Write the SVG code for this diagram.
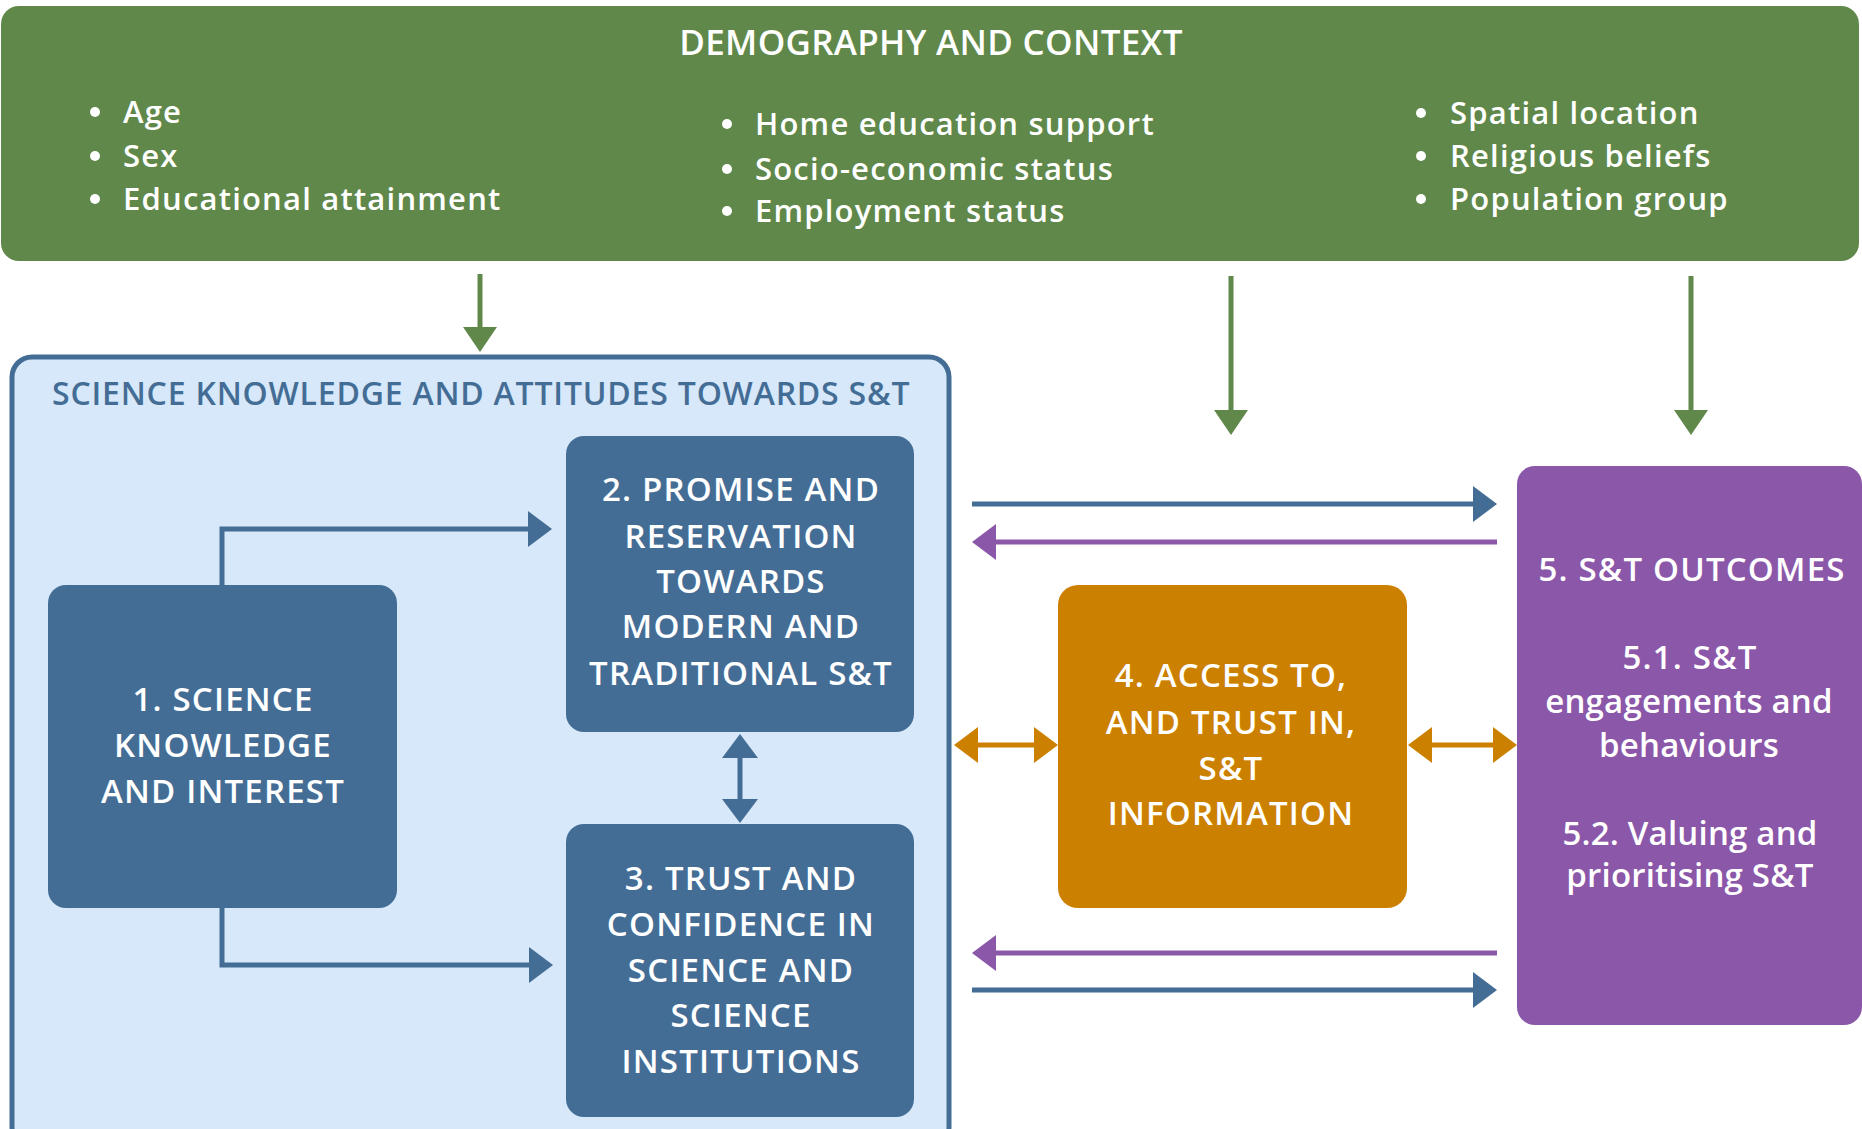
<svg xmlns="http://www.w3.org/2000/svg" width="1862" height="1129" viewBox="0 0 1862 1129">
<defs>
<style>
text{font-family:"Open Sans","Liberation Sans",sans-serif;font-weight:600;fill:#fff}
.title{font-size:35px;text-anchor:middle;letter-spacing:0.3px}
.bul{font-size:31px;letter-spacing:1.2px}
.box{font-size:33px;text-anchor:middle;letter-spacing:1.2px}
.lc{letter-spacing:0.2px}
.ctitle{font-size:32px;fill:#446d96;letter-spacing:0.8px}
.ln{fill:none;stroke-width:5}
</style>
<marker id="hb" markerUnits="userSpaceOnUse" viewBox="0 0 24 36" refX="14" refY="18" markerWidth="24" markerHeight="36" orient="auto-start-reverse"><path d="M0,0L24,18L0,36z" fill="#446d96"/></marker>
<marker id="hp" markerUnits="userSpaceOnUse" viewBox="0 0 24 36" refX="14" refY="18" markerWidth="24" markerHeight="36" orient="auto-start-reverse"><path d="M0,0L24,18L0,36z" fill="#8b57a9"/></marker>
<marker id="ho" markerUnits="userSpaceOnUse" viewBox="0 0 24 36" refX="14" refY="18" markerWidth="24" markerHeight="36" orient="auto-start-reverse"><path d="M0,0L24,18L0,36z" fill="#cc8000"/></marker>
<marker id="hg" markerUnits="userSpaceOnUse" viewBox="0 0 25 34" refX="15" refY="17" markerWidth="25" markerHeight="34" orient="auto"><path d="M0,0L25,17L0,34z" fill="#60884a"/></marker>
</defs>
<rect width="1862" height="1129" fill="#fff"/>

<g id="demography">
<rect x="1" y="6" width="1858" height="255" rx="18" fill="#60884a"/>
<text class="title" x="931" y="55">DEMOGRAPHY AND CONTEXT</text>
<g fill="#fff">
<circle cx="95" cy="112" r="5"/><circle cx="95" cy="156" r="5"/><circle cx="95" cy="199" r="5"/>
<circle cx="727" cy="124" r="5"/><circle cx="727" cy="169" r="5"/><circle cx="727" cy="211" r="5"/>
<circle cx="1421" cy="113" r="5"/><circle cx="1421" cy="156" r="5"/><circle cx="1421" cy="199" r="5"/>
</g>
<text class="bul" x="123" y="123">Age</text>
<text class="bul" x="123" y="167">Sex</text>
<text class="bul" x="123" y="210">Educational attainment</text>
<text class="bul" x="755" y="135">Home education support</text>
<text class="bul" x="755" y="180">Socio-economic status</text>
<text class="bul" x="755" y="222">Employment status</text>
<text class="bul" x="1450" y="124">Spatial location</text>
<text class="bul" x="1450" y="167">Religious beliefs</text>
<text class="bul" x="1450" y="210">Population group</text>
</g>

<g id="container">
<rect x="12" y="357" width="937" height="790" rx="20" fill="#d6e8f9" stroke="#446d96" stroke-width="5"/>
<text class="ctitle" x="52" y="405">SCIENCE KNOWLEDGE AND ATTITUDES TOWARDS S&amp;T</text>
</g>

<g id="node1">
<rect x="48" y="585" width="349" height="323" rx="18" fill="#446d96"/>
<text class="box" x="223" y="711">1. SCIENCE</text>
<text class="box" x="223" y="757">KNOWLEDGE</text>
<text class="box" x="223" y="803">AND INTEREST</text>
</g>

<g id="node2">
<rect x="566" y="436" width="348" height="296" rx="18" fill="#446d96"/>
<text class="box" x="741" y="501">2. PROMISE AND</text>
<text class="box" x="741" y="548">RESERVATION</text>
<text class="box" x="741" y="593">TOWARDS</text>
<text class="box" x="741" y="638">MODERN AND</text>
<text class="box" x="741" y="685">TRADITIONAL S&amp;T</text>
</g>

<g id="node3">
<rect x="566" y="824" width="348" height="293" rx="18" fill="#446d96"/>
<text class="box" x="741" y="890">3. TRUST AND</text>
<text class="box" x="741" y="936">CONFIDENCE IN</text>
<text class="box" x="741" y="982">SCIENCE AND</text>
<text class="box" x="741" y="1027">SCIENCE</text>
<text class="box" x="741" y="1073">INSTITUTIONS</text>
</g>

<g id="node4">
<rect x="1058" y="585" width="349" height="323" rx="20" fill="#cc8000"/>
<text class="box" x="1231" y="687">4. ACCESS TO,</text>
<text class="box" x="1231" y="734">AND TRUST IN,</text>
<text class="box" x="1231" y="780">S&amp;T</text>
<text class="box" x="1231" y="825">INFORMATION</text>
</g>

<g id="node5">
<rect x="1517" y="466" width="345" height="559" rx="18" fill="#8b57a9"/>
<text class="box" x="1692" y="581">5. S&amp;T OUTCOMES</text>
<text class="box" x="1690" y="669">5.1. S&amp;T</text>
<text class="box lc" x="1689" y="713">engagements and</text>
<text class="box lc" x="1689" y="757">behaviours</text>
<text class="box lc" x="1690" y="845">5.2. Valuing and</text>
<text class="box lc" x="1690" y="887">prioritising S&amp;T</text>
</g>

<g id="connectors">
<line class="ln" x1="480" y1="274" x2="480" y2="342" stroke="#60884a" marker-end="url(#hg)"/>
<line class="ln" x1="1231" y1="276" x2="1231" y2="425" stroke="#60884a" marker-end="url(#hg)"/>
<line class="ln" x1="1691" y1="276" x2="1691" y2="425" stroke="#60884a" marker-end="url(#hg)"/>
<path class="ln" d="M222,585V529H542" stroke="#446d96" marker-end="url(#hb)"/>
<path class="ln" d="M222,908V965H543" stroke="#446d96" marker-end="url(#hb)"/>
<line class="ln" x1="740" y1="744" x2="740" y2="813" stroke="#446d96" marker-start="url(#hb)" marker-end="url(#hb)"/>
<line class="ln" x1="972" y1="504" x2="1487" y2="504" stroke="#446d96" marker-end="url(#hb)"/>
<line class="ln" x1="1497" y1="542" x2="982" y2="542" stroke="#8b57a9" marker-end="url(#hp)"/>
<line class="ln" x1="1497" y1="953" x2="982" y2="953" stroke="#8b57a9" marker-end="url(#hp)"/>
<line class="ln" x1="972" y1="990" x2="1487" y2="990" stroke="#446d96" marker-end="url(#hb)"/>
<line class="ln" x1="964" y1="745" x2="1048" y2="745" stroke="#cc8000" marker-start="url(#ho)" marker-end="url(#ho)"/>
<line class="ln" x1="1418" y1="745" x2="1507" y2="745" stroke="#cc8000" marker-start="url(#ho)" marker-end="url(#ho)"/>
</g>
</svg>
